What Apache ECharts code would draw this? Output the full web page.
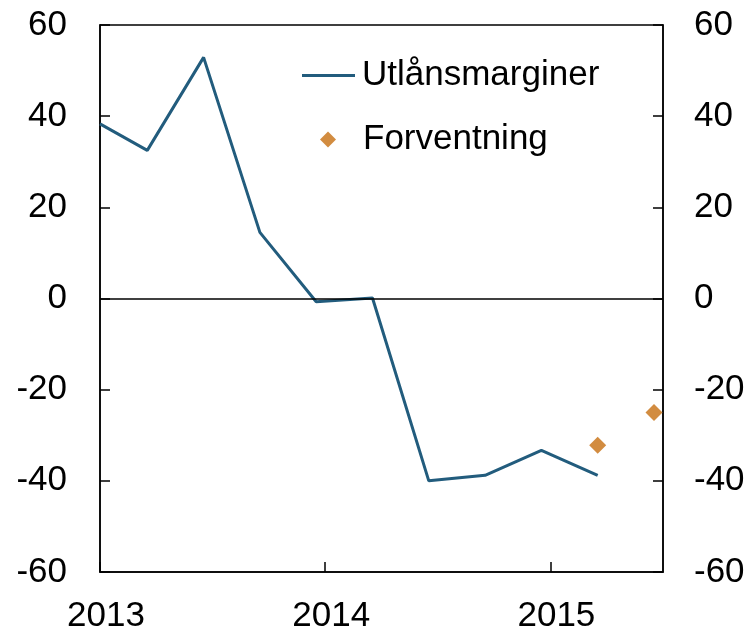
<!DOCTYPE html>
<html>
<head>
<meta charset="utf-8">
<script src="https://cdn.jsdelivr.net/npm/echarts@6/dist/echarts.min.js"></script>
<style>
  html, body { margin: 0; padding: 0; background: #fff; }
  #chart { width: 753px; height: 634px; }
</style>
</head>
<body>
<div id="chart"></div>
<script>
// Utlånsmarginer, kvartalsvis (x = år som desimaltall)
var lineX = [2013.0, 2013.21, 2013.46, 2013.71, 2013.96, 2014.21, 2014.46, 2014.71, 2014.96, 2015.21];
var lineY = [38.3, 32.5, 52.9, 14.5, -0.7, 0.1, -40, -38.8, -33.3, -38.8];
// Forventning
var expX = [2015.21, 2015.46];
var expY = [-32.2, -25.0];
var yearTicks = [2013, 2014, 2015];

var FONT = '"Liberation Sans", Arial, sans-serif';
var chart = echarts.init(document.getElementById('chart'));

function pairs(xs, ys) {
    var out = [];
    for (let i = 0; i < xs.length; i++) out.push([xs[i], ys[i]]);
    return out;
}

var yAxisBase = function (pos, margin) {
    return {
        type: 'value', position: pos, min: -60, max: 60, interval: 20,
        axisLine: { show: true, lineStyle: { color: '#000', width: 1.5 } },
        axisTick: { show: true, inside: true, length: 10, lineStyle: { color: '#000', width: 1.5 } },
        axisLabel: { color: '#000', fontSize: 35, fontFamily: FONT, margin: margin },
        splitLine: { show: false }
    };
};

var option = {
    animation: false,
    grid: {
        left: 100, right: 90, top: 25, bottom: 59,
        show: true, borderColor: '#000', borderWidth: 1.5
    },
    legend: [{
        data: [{ name: 'Utlånsmarginer', icon: 'rect' }],
        left: 297, top: 53, itemWidth: 53, itemHeight: 3, itemGap: 0,
        textStyle: { color: '#000', fontSize: 35, fontFamily: FONT, padding: [0, 0, 0, 2] }
    }, {
        data: [{ name: 'Forventning', icon: 'diamond' }],
        left: 315, top: 117, itemWidth: 16, itemHeight: 16,
        itemStyle: { opacity: 1 },
        textStyle: { color: '#000', fontSize: 35, fontFamily: FONT, padding: [0, 0, 0, 22] }
    }],
    xAxis: {
        type: 'value', min: 2013, max: 2015.5, interval: 1,
        axisLine: { show: true, onZero: false, lineStyle: { color: '#000', width: 1.5 } },
        axisTick: { show: true, inside: true, length: 10, customValues: yearTicks, lineStyle: { color: '#000', width: 1.5 } },
        axisLabel: {
            color: '#000', fontSize: 35, fontFamily: FONT, margin: 27,
            customValues: yearTicks, padding: [0, 0, 0, 12],
            formatter: function (v) { return String(v); }
        },
        splitLine: { show: false }
    },
    yAxis: [yAxisBase('left', 33), yAxisBase('right', 31)],
    series: [{
        name: 'Utlånsmarginer', type: 'line',
        data: pairs(lineX, lineY),
        symbol: 'none', color: '#225C7D',
        lineStyle: { color: '#225C7D', width: 3 },
        markLine: {
            silent: true, symbol: 'none', label: { show: false },
            lineStyle: { color: '#000', width: 1.5, type: 'solid' },
            data: [{ yAxis: 0 }]
        },
        z: 3
    }, {
        name: 'Forventning', type: 'scatter',
        data: pairs(expX, expY),
        symbol: 'diamond', symbolSize: 17, color: '#D28C40',
        itemStyle: { opacity: 1 },
        z: 4
    }]
};
chart.setOption(option);
</script>
</body>
</html>
